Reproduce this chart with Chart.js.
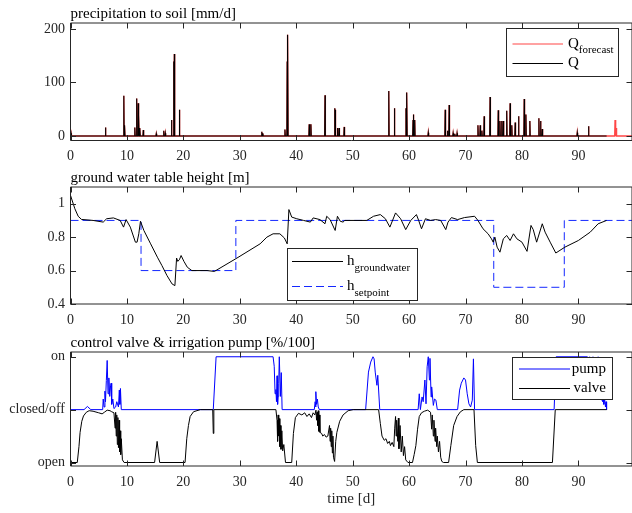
<!DOCTYPE html>
<html>
<head>
<meta charset="utf-8">
<script src="https://cdn.jsdelivr.net/npm/chart.js@4.4.1/dist/chart.umd.min.js"></script>
<style>
html, body { margin: 0; padding: 0; background: #fff; overflow: hidden; }
#wrap { position: relative; width: 632px; height: 513px; }
canvas { position: absolute; left: 0; }
</style>
</head>
<body>
<div id="wrap">
  <canvas id="rain" width="632" height="166" style="top:0px"></canvas>
  <canvas id="gw" width="632" height="164" style="top:166px"></canvas>
  <canvas id="ctl" width="632" height="183" style="top:330px"></canvas>
</div>
<script>
// rain events (day, mm/d)
var rainDays  = [0.1, 6.2, 9.45, 9.6, 11.4, 11.7, 12.0, 12.1, 12.3, 12.9, 15.2, 16.5, 16.8, 17.9, 18.3, 18.4, 19.3,
                 33.9, 34.1, 38.0, 38.4, 38.5, 42.3, 42.6, 45.1, 46.8, 46.9, 47.3, 47.6, 48.5,
                 56.4, 57.4, 59.45, 59.6, 60.7, 60.8, 61.0, 63.4, 66.4, 66.8, 67.1, 67.8, 68.1, 68.5,
                 72.2, 72.6, 72.9, 73.3, 74.35, 75.8, 76.1, 76.4, 76.7, 77.3, 77.9, 78.2, 78.8, 79.4,
                 80.4, 80.7, 81.4, 83.0, 83.3, 83.6, 89.8, 91.8];
var rainPeaks = [5, 16, 75, 20, 16, 70, 61, 39, 15, 11, 4, 10, 5, 30, 139, 153, 49,
                 8, 5, 12, 139, 189, 22, 22, 76, 52, 49, 15, 15, 17,
                 84, 52, 52, 81, 30, 40, 30, 6, 49, 10, 58, 5, 4, 5,
                 20, 20, 10, 37, 73, 48, 28, 28, 28, 47, 61, 20, 25, 37,
                 69, 40, 28, 33, 28, 13, 6, 18];
var forecastDays  = [96.5, 96.7];
var forecastPeaks = [30, 15];
var rainEnd = 95, forecastEnd = 99.5;

// ground water table height [m]
var gwDays = [0, 0.05, 0.77, 1.36, 1.95, 4.0, 5.8, 6.4, 7.6, 8.8, 9.4, 9.85, 10.6, 11.5, 11.8, 12.1, 12.4, 13.0,
              14.2, 15.4, 16.2, 17.1, 18.0, 18.5, 18.8, 19.0, 19.3, 19.6, 20.1, 20.7, 21.5, 24.2, 25.5,
              29.5, 33.6, 34.8, 35.9, 37.1, 37.9, 38.4, 38.7, 39.2, 40.1, 41.3, 42.5, 43.0, 44.2, 45.1,
              45.4, 46.0, 46.9, 47.3, 47.8, 48.3, 48.6, 52.5, 53.7, 54.9, 55.8, 56.6, 57.6, 58.5, 59.4,
              60.3, 61.3, 61.7, 62.2, 62.9, 63.8, 64.7, 65.6, 66.5, 66.9, 67.5, 68.6, 69.8, 71.6, 72.2,
              73.1, 74.0, 74.6, 74.9, 75.2, 75.6, 76.1, 76.7, 77.3, 77.9, 78.5, 79.1, 80.0, 80.9, 81.6,
              82.0, 82.6, 83.6, 84.1, 85.0, 86.0, 87.6, 90.0, 92.1, 93.5, 95.0];
var gwHeight = [1.05, 1.05, 0.97, 0.925, 0.906, 0.90, 0.89, 0.91, 0.915, 0.90, 0.86, 0.905, 0.86, 0.77, 0.77, 0.82, 0.895, 0.84,
                0.76, 0.68, 0.63, 0.57, 0.52, 0.51, 0.675, 0.655, 0.665, 0.69, 0.655, 0.62, 0.60, 0.60, 0.595,
                0.675, 0.76, 0.80, 0.82, 0.82, 0.795, 0.76, 0.965, 0.92, 0.91, 0.90, 0.89, 0.915, 0.905, 0.88,
                0.925, 0.905, 0.84, 0.925, 0.895, 0.89, 0.90, 0.90, 0.925, 0.935, 0.91, 0.86, 0.945, 0.91, 0.845,
                0.90, 0.935, 0.90, 0.85, 0.91, 0.90, 0.905, 0.90, 0.845, 0.89, 0.917, 0.905, 0.917, 0.925, 0.90,
                0.85, 0.82, 0.79, 0.77, 0.80, 0.74, 0.71, 0.79, 0.81, 0.78, 0.82, 0.79, 0.77, 0.715, 0.87,
                0.845, 0.77, 0.88, 0.83, 0.77, 0.705, 0.74, 0.78, 0.83, 0.88, 0.90];
var spDays   = [0, 12.5, 12.5, 29.3, 29.3, 75, 75, 87.5, 87.5, 99.5];
var spHeight = [0.9, 0.9, 0.6, 0.6, 0.9, 0.9, 0.5, 0.5, 0.9, 0.9];

// pump (0 = off, 1 = on) and valve (0 = closed, -1 = open)
var pumpDays = [0, 2.4, 3.0, 3.6, 5.7, 5.8, 5.95, 6.1, 6.2, 6.35, 6.5, 6.65, 6.8, 6.95, 7.1, 7.2, 7.3, 7.5, 7.7,
                8.0, 8.2, 8.5, 8.65, 8.75, 8.85, 9.0, 25.3, 25.8, 35.9, 36.1, 36.25, 36.4, 36.5, 36.6, 36.7, 36.8,
                36.9, 37.0, 37.2, 37.35, 37.5, 43.2, 43.35, 43.45, 43.5, 43.6, 43.75, 43.9, 44.1,
                52.3, 52.8, 53.2, 53.6, 53.8, 54.0, 54.3, 54.45, 54.8,
                61.6, 61.8, 62.0, 62.3, 62.5, 62.8, 63.0, 63.2, 63.4, 63.6, 63.7, 63.9, 64.0, 64.3, 64.5, 64.75, 65.0,
                68.6, 68.95, 69.25, 69.7, 70.0, 70.3, 70.6, 70.9, 71.2, 71.4, 71.6,
                85.7, 86.05, 91.6, 91.8, 92.0, 92.4, 92.6, 93.3, 93.5, 93.7, 93.8, 94.0, 94.1, 94.3, 94.4, 94.5,
                94.6, 94.8, 94.9, 95.0];
var pumpVal  = [0, 0, 0.06, 0, 0, 0.2, 0.05, 0.35, 0.15, 0.55, 0.93, 0.3, 0.6, 0.25, 0.45, 0.5, 0.1, 0.2, 0.02,
                0.05, 0.15, 0.05, 0.37, 0.1, 0.4, 0, 0, 1, 1, 0.82, 0.3, 0.38, 0.15, 0.64, 0.1, 0.25,
                0.5, 1.0, 0.25, 0.7, 0, 0, 0.15, 0.05, 0.34, 0.1, 0.2, 0.05, 0,
                0, 0.71, 0.9, 1.0, 0.96, 0.71, 0.46, 0.65, 0,
                0, 0.3, 0, 0.24, 0.15, 0.56, 0.11, 0.81, 1.0, 0.56, 0.97, 0.24, 0.43, 0.08, 0.2, 0.18, 0,
                0, 0.37, 0.5, 0.6, 0.56, 0.3, 0.11, 0.05, 0.18, 0.96, 0,
                0, 1, 1, 0.93, 1, 0.95, 1, 0.92, 1, 0.9, 0.3, 0.9, 0.2, 0.15, 0.5, 0.1,
                0.25, 0.05, 0.15, 0];
var valveDays = [0, 1.2, 1.5, 1.7, 2.0, 2.3, 2.8, 3.3, 4.0, 5.0, 5.6, 6.0, 6.5, 7.0, 7.3, 7.7, 7.9, 8.0, 8.1, 8.2,
                 8.3, 8.4, 8.5, 8.6, 8.7, 8.8, 8.9, 9.0, 9.2, 9.5, 14.9, 15.35, 15.8, 20.3, 20.6, 20.9, 21.2, 21.8,
                 23.0, 25.2, 25.3, 25.4, 36.4, 36.6, 36.7, 36.8, 36.9, 37.0, 37.1, 37.2, 37.3, 37.45, 37.6, 37.8,
                 38.1, 39.2, 39.5, 39.85, 40.4, 41.0, 41.5, 41.9, 42.3, 42.7, 43.0, 43.3, 43.5, 43.6, 43.7, 43.8,
                 43.9, 44.0, 44.1, 44.2, 44.5, 44.7, 45.0, 45.3, 45.6, 45.9, 46.0, 46.1, 46.2, 46.3, 46.4, 46.5,
                 46.6, 46.8, 47.0, 47.2, 47.7, 48.3, 49.2, 50.1, 54.6, 54.9, 55.2, 55.6, 55.9, 56.2, 56.5, 56.7,
                 57.0, 57.3, 57.45, 57.6, 57.7, 57.8, 58.0, 58.1, 58.2, 58.4, 58.6, 58.8, 59.0, 59.2, 59.4, 59.8,
                 60.6, 60.9, 61.2, 61.5, 61.8, 62.2, 62.7, 63.3, 63.8, 64.0, 64.1, 64.3, 64.4, 64.6, 64.7, 64.9,
                 65.0, 65.2, 65.4, 65.6, 65.8, 66.1, 67.0, 67.4, 67.9, 68.5, 69.1, 69.7, 71.5, 71.8, 72.1, 85.4,
                 85.9, 95.0];
var valveVal  = [-1, -1, -0.7, -0.43, -0.22, -0.12, -0.05, -0.02, -0.03, -0.06, -0.08, -0.05, -0.01, -0.02, -0.04, -0.06, -0.35, -0.05, -0.5, -0.1,
                 -0.66, -0.15, -0.72, -0.2, -0.8, -0.4, -0.85, -0.55, -0.95, -1, -1, -0.6, -1, -1, -0.55, -0.3, -0.13, -0.04,
                 0, 0, -0.45, 0, 0, -0.2, -0.6, -0.1, -0.5, -0.17, -0.7, -0.3, -0.75, -0.4, -0.78, -0.66,
                 -1, -1, -0.45, -0.15, -0.07, -0.1, -0.06, -0.13, -0.08, -0.15, -0.06, -0.1, -0.01, -0.2, -0.05, -0.3,
                 -0.02, -0.41, -0.1, -0.43, -0.45, -0.5, -0.47, -0.52, -0.5, -0.3, -0.6, -0.35, -0.7, -0.4, -0.82, -0.5,
                 -0.9, -0.98, -0.6, -0.43, -0.22, -0.1, -0.02, 0, 0, -0.26, -0.5, -0.58, -0.55, -0.64, -0.6, -0.68,
                 -0.62, -0.7, -0.35, -0.13, -0.5, -0.2, -0.6, -0.16, -0.74, -0.3, -0.8, -0.5, -0.87, -0.7, -0.95, -1,
                 -1, -0.85, -0.68, -0.37, -0.13, -0.06, -0.03, -0.01, -0.05, -0.37, -0.1, -0.5, -0.2, -0.6, -0.35, -0.7,
                 -0.5, -0.8, -0.6, -0.9, -0.98, -1, -1, -0.68, -0.3, -0.13, -0.04, 0, 0, -0.68, -1, -1,
                 0, 0];

var xTicks = [0, 10, 20, 30, 40, 50, 60, 70, 80, 90];
var rainTicks = [0, 100, 200];
var rainTickLabels = ['0', '100', '200'];
var gwTicks = [0.4, 0.6, 0.8, 1];
var gwTickLabels = ['0.4', '0.6', '0.8', '1'];
var ctlTicks = [-1, 0, 1];
var ctlTickLabels = ['open', 'closed/off', 'on'];

var serif = "'Liberation Serif', 'Times New Roman', 'DejaVu Serif', serif";

function pairs(xs, ys) {
  return xs.map(function (x, i) { return {x: x, y: ys[i]}; });
}
// each rain event as a narrow spike from the zero line
function spikes(days, peaks, end) {
  var pts = [{x: 0, y: 0}];
  days.forEach(function (d, i) {
    pts.push({x: d - 0.06, y: 0}, {x: d, y: peaks[i]}, {x: d + 0.06, y: 0});
  });
  pts.push({x: end, y: 0});
  return pts;
}

// matlab style box with inward ticks
var boxPlugin = {
  id: 'matBox',
  afterDatasetsDraw: function (chart) {
    var ctx = chart.ctx, a = chart.chartArea, x = chart.scales.x, y = chart.scales.y, tl = 5.5;
    ctx.save();
    ctx.strokeStyle = '#262626';
    ctx.lineWidth = 1;
    ctx.beginPath();
    ctx.rect(a.left, a.top, a.right - a.left, a.bottom - a.top);
    x.ticks.forEach(function (t) {
      var px = Math.round(x.getPixelForValue(t.value)) + 0.5;
      ctx.moveTo(px, a.bottom); ctx.lineTo(px, a.bottom - tl);
      ctx.moveTo(px, a.top); ctx.lineTo(px, a.top + tl);
    });
    y.ticks.forEach(function (t) {
      var py = Math.round(y.getPixelForValue(t.value)) + 0.5;
      ctx.moveTo(a.left, py); ctx.lineTo(a.left + tl, py);
      ctx.moveTo(a.right, py); ctx.lineTo(a.right - tl, py);
    });
    ctx.stroke();
    ctx.restore();
  }
};

var legendPlugin = {
  id: 'boxLegend',
  afterDraw: function (chart, args, o) {
    if (!o || !o.box) return;
    var ctx = chart.ctx, b = o.box;
    ctx.save();
    ctx.fillStyle = '#fff';
    ctx.fillRect(b[0], b[1], b[2] - b[0], b[3] - b[1]);
    ctx.strokeStyle = '#262626';
    ctx.lineWidth = 1;
    ctx.strokeRect(b[0], b[1], b[2] - b[0], b[3] - b[1]);
    o.items.forEach(function (idx, i) {
      var ds = chart.data.datasets[idx], yy = o.rows[i];
      ctx.strokeStyle = ds.borderColor;
      ctx.lineWidth = ds.legendWidth || 1;
      ctx.setLineDash(ds.borderDash || []);
      ctx.beginPath();
      ctx.moveTo(o.line[0], yy); ctx.lineTo(o.line[1], yy);
      ctx.stroke();
      ctx.setLineDash([]);
      ctx.fillStyle = '#000';
      ctx.textBaseline = 'middle';
      ctx.textAlign = 'left';
      ctx.font = '15px ' + serif;
      var mainW = ctx.measureText(ds.label).width;
      var subW = 0;
      if (ds.sub) { ctx.font = '11px ' + serif; subW = ctx.measureText(ds.sub).width; }
      var tx = o.align === 'right' ? o.textX - mainW - subW : o.textX;
      ctx.font = '15px ' + serif;
      ctx.fillText(ds.label, tx, yy);
      if (ds.sub) {
        ctx.font = '11px ' + serif;
        ctx.fillText(ds.sub, tx + mainW, yy + 6.5);
      }
    });
    ctx.restore();
  }
};

function panel(id, cfg) {
  var tickFont = {family: serif, size: 14};
  return new Chart(document.getElementById(id), {
    type: 'line',
    data: {datasets: cfg.datasets},
    options: {
      responsive: false,
      animation: false,
      devicePixelRatio: 1,
      layout: {padding: 0},
      elements: {point: {radius: 0}, line: {tension: 0, borderWidth: 1}},
      plugins: {
        legend: {display: false},
        tooltip: {enabled: false},
        title: {display: true, text: cfg.title, align: 'start', fullSize: false, color: '#000',
                font: {family: serif, size: 15, weight: 'normal'}, padding: {top: cfg.titleTop, bottom: 0}},
        boxLegend: cfg.legend
      },
      scales: {
        x: {
          type: 'linear', min: 0, max: 99.5,
          grid: {display: false, drawTicks: false}, border: {display: false},
          afterBuildTicks: function (s) { s.ticks = xTicks.map(function (v) { return {value: v}; }); },
          afterFit: function (s) { s.height = cfg.xHeight; },
          ticks: {color: '#262626', font: tickFont, padding: 7.5, autoSkip: false, maxRotation: 0,
                  callback: function (v) { return String(v); }},
          title: cfg.xTitle ? {display: true, text: cfg.xTitle, color: '#262626',
                               font: {family: serif, size: 15}, padding: {top: 0, bottom: 5}} : {display: false}
        },
        y: {
          type: 'linear', min: cfg.yMin, max: cfg.yMax,
          grid: {display: false, drawTicks: false}, border: {display: false},
          afterBuildTicks: function (s) { s.ticks = cfg.yTicks.map(function (v) { return {value: v}; }); },
          afterFit: function (s) { s.width = 70.5; },
          ticks: {color: '#262626', font: tickFont, padding: 5.5, autoSkip: false,
                  callback: function (v) { return cfg.yLabels[cfg.yTicks.indexOf(v)]; }}
        }
      }
    },
    plugins: [boxPlugin, legendPlugin]
  });
}

panel('rain', {
  title: 'precipitation to soil [mm/d]', titleTop: 5, xHeight: 25.5,
  yMin: -8.4, yMax: 211, yTicks: rainTicks, yLabels: rainTickLabels,
  datasets: [
    {label: 'Q', data: spikes(rainDays, rainPeaks, rainEnd), borderColor: '#000', borderWidth: 1.1, order: 1},
    {label: 'Q', sub: 'forecast', data: spikes(rainDays.concat(forecastDays), rainPeaks.concat(forecastPeaks), forecastEnd),
     borderColor: 'rgb(255,70,70)', borderWidth: 1.4, legendWidth: 1.2, order: 2}
  ],
  legend: {box: [506.5, 28.5, 618.5, 76.5], line: [512.5, 563], rows: [44, 63.5], textX: 568, items: [1, 0]}
});

panel('gw', {
  title: 'ground water table height [m]', titleTop: 3, xHeight: 26,
  yMin: 0.4, yMax: 1.1, yTicks: gwTicks, yLabels: gwTickLabels,
  datasets: [
    {label: 'h', sub: 'groundwater', data: pairs(gwDays, gwHeight), borderColor: '#000', borderWidth: 1, order: 1},
    {label: 'h', sub: 'setpoint', data: pairs(spDays, spHeight), borderColor: 'rgb(20,40,255)', borderWidth: 1,
     borderDash: [8, 4], order: 2}
  ],
  legend: {box: [287.5, 82.5, 417.5, 134.5], line: [292, 343], rows: [95.5, 120.5], textX: 347, items: [0, 1]}
});

panel('ctl', {
  title: 'control valve & irrigation pump [%/100]', titleTop: 4, xHeight: 47, xTitle: 'time [d]',
  yMin: -1.066, yMax: 1.09, yTicks: ctlTicks, yLabels: ctlTickLabels,
  datasets: [
    {label: 'valve', data: pairs(valveDays, valveVal), borderColor: '#000', borderWidth: 1, order: 1},
    {label: 'pump', data: pairs(pumpDays, pumpVal), borderColor: 'rgb(0,0,255)', borderWidth: 1, order: 2}
  ],
  legend: {box: [512.5, 27.5, 612.5, 69.5], line: [519, 570], rows: [39, 58.5], textX: 606, align: 'right', items: [1, 0]}
});
</script>
</body>
</html>
